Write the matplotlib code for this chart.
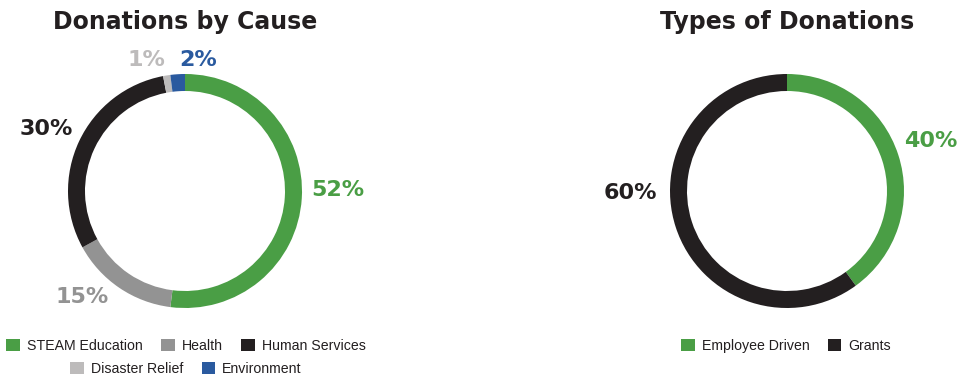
import matplotlib
matplotlib.use("Agg")
import matplotlib.pyplot as plt
from matplotlib.patches import Patch

cause_labels = ["STEAM Education", "Health", "Human Services", "Disaster Relief", "Environment"]
cause_values = [52, 15, 30, 1, 2]
cause_colors = ["#4a9e45", "#939393", "#231f20", "#bdbbbb", "#2a5a9f"]

type_labels = ["Employee Driven", "Grants"]
type_values = [40, 60]
type_colors = ["#4a9e45", "#231f20"]

W, H = 959, 375
fig = plt.figure(figsize=(W / 100, H / 100), dpi=100)
ax = fig.add_axes([0, 0, 1, 1])

R = 117
width = 17
c1 = (185, 191)
c2 = (787, 191)

# y axis is inverted below, so start at 270 and run counter-clockwise in data
# space, which appears clockwise from the top on screen.
ax.pie(cause_values, colors=cause_colors, startangle=270, counterclock=True,
       center=c1, radius=R, wedgeprops=dict(width=width, linewidth=0), frame=True)
ax.pie(type_values, colors=type_colors, startangle=270, counterclock=True,
       center=c2, radius=R, wedgeprops=dict(width=width, linewidth=0), frame=True)
ax.set_xlim(0, W)
ax.set_ylim(H, 0)
ax.set_aspect("equal")
ax.axis("off")

tfont = dict(fontsize=17, fontweight="heavy", color="#231f20", family="DejaVu Sans")
ax.text(185, 22, "Donations by Cause", ha="center", va="center", **tfont)
ax.text(787, 22, "Types of Donations", ha="center", va="center", **tfont)

lfont = dict(fontsize=16, fontweight="bold", family="DejaVu Sans", ha="center", va="center")
cause_pos = [(338, 190), (82, 297), (46, 129), (146, 60), (198, 60)]
for v, col, p in zip(cause_values, cause_colors, cause_pos):
    ax.text(p[0], p[1], f"{v}%", color=col, **lfont)
type_pos = [(931, 141), (630, 193)]
for v, col, p in zip(type_values, type_colors, type_pos):
    ax.text(p[0], p[1], f"{v}%", color=col, **lfont)

legfont = dict(family="Liberation Sans", size=10.2)
def mk(labels, colors):
    return [Patch(facecolor=c, edgecolor="none", label=l) for l, c in zip(labels, colors)]

common = dict(frameon=False, prop=legfont, handlelength=0.95, handleheight=0.95,
              handletextpad=0.5, columnspacing=1.3, borderpad=0, labelcolor="#231f20")
fig.legend(handles=mk(cause_labels[:3], cause_colors[:3]), ncol=3, loc="center",
           bbox_to_anchor=(186 / W, 1 - 346 / H), **common)
fig.legend(handles=mk(cause_labels[3:], cause_colors[3:]), ncol=2, loc="center",
           bbox_to_anchor=(186 / W, 1 - 369 / H), **common)
fig.legend(handles=mk(type_labels, type_colors), ncol=2, loc="center",
           bbox_to_anchor=(786 / W, 1 - 346 / H), **common)

fig.savefig("out.png", dpi=100)
